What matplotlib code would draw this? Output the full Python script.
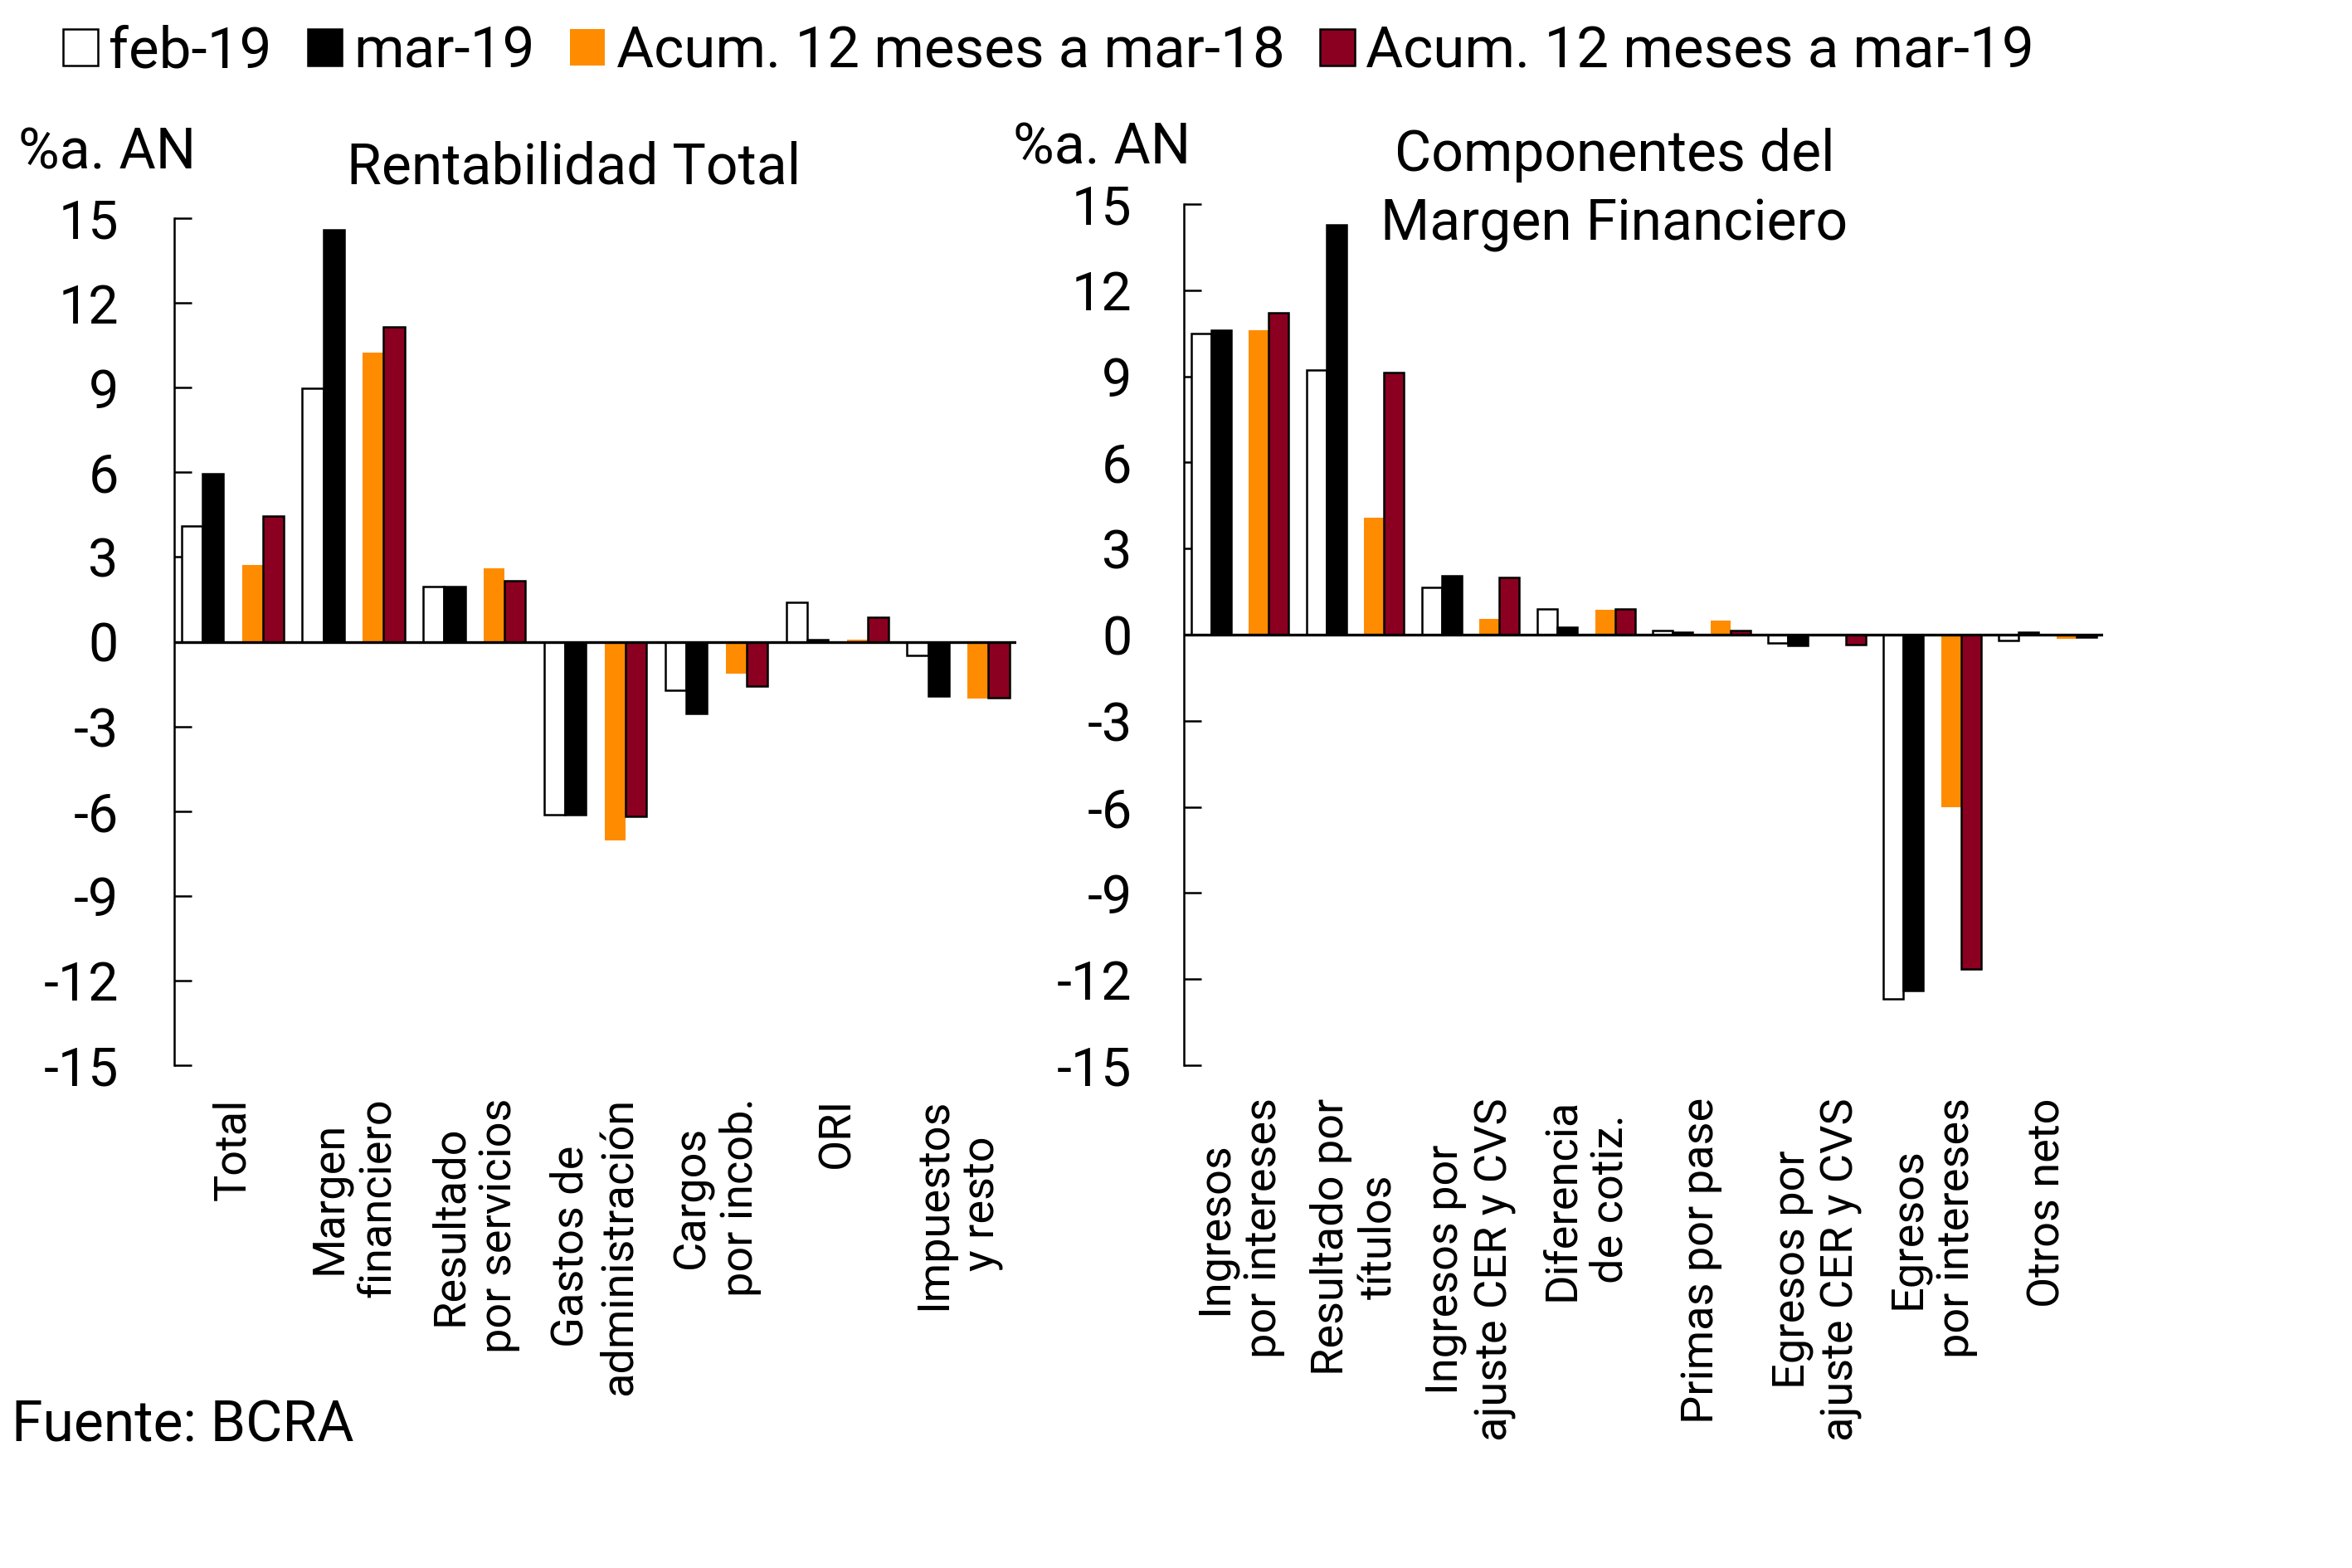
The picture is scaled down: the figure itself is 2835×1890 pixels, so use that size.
import matplotlib
matplotlib.use("Agg")
import matplotlib.pyplot as plt
from matplotlib.patches import Patch
import numpy as np

plt.rcParams['font.family'] = ['Roboto', 'DejaVu Sans']

series_names = ["feb-19", "mar-19", "Acum. 12 meses a mar-18", "Acum. 12 meses a mar-19"]

left_categories = ["Total", "Margen\nfinanciero", "Resultado\npor servicios",
                   "Gastos de\nadministración", "Cargos\npor incob.", "ORI",
                   "Impuestos\ny resto"]
left_feb19 = [4.10, 8.98, 1.96, -6.13, -1.73, 1.41, -0.49]
left_mar19 = [5.96, 14.59, 1.96, -6.13, -2.55, 0.07, -1.93]
left_acum18 = [2.72, 10.23, 2.59, -7.04, -1.12, 0.08, -2.01]
left_acum19 = [4.45, 11.16, 2.16, -6.19, -1.58, 0.87, -1.99]

right_categories = ["Ingresos\npor intereses", "Resultado por\ntítulos",
                    "Ingresos por\najuste CER y CVS", "Diferencia\nde cotiz.",
                    "Primas por pase", "Egresos por\najuste CER y CVS",
                    "Egresos\npor intereses", "Otros neto"]
right_feb19 = [10.49, 9.22, 1.65, 0.91, 0.14, -0.29, -12.69, -0.21]
right_mar19 = [10.62, 14.28, 2.05, 0.25, 0.10, -0.37, -12.40, 0.10]
right_acum18 = [10.62, 4.08, 0.55, 0.87, 0.50, 0.0, -6.01, -0.15]
right_acum19 = [11.21, 9.14, 1.99, 0.91, 0.14, -0.36, -11.64, -0.10]

yticks = [15, 12, 9, 6, 3, 0, -3, -6, -9, -12, -15]

C_ORANGE = "#FF8C00"
C_MAROON = "#8B0020"
EW = 0.6

fig = plt.figure(figsize=(9.45, 6.3), dpi=300)

W, H = 2835, 1890
def ax_rect(x0, x1, ytop, ybot):
    return [x0 / W, 1 - ybot / H, (x1 - x0) / W, (ybot - ytop) / H]

ax1 = fig.add_axes(ax_rect(209.5, 1225, 263, 1284))
ax2 = fig.add_axes(ax_rect(1427, 2535, 246, 1284))

bw = 0.345

def draw(ax, cats, feb, mar, a18, a19, ypad):
    n = len(cats)
    p_month = np.arange(n) * 2.0
    p_acum = p_month + 1.0
    ax.bar(p_month - bw / 2, feb, bw, color="white", edgecolor="black", linewidth=EW, zorder=2)
    ax.bar(p_month + bw / 2, mar, bw, color="black", edgecolor="black", linewidth=EW, zorder=2)
    ax.bar(p_acum - bw / 2, a18, bw, color=C_ORANGE, linewidth=0, zorder=2)
    ax.bar(p_acum + bw / 2, a19, bw, color=C_MAROON, edgecolor="black", linewidth=EW, zorder=2)
    ax.axhline(0, color="black", linewidth=0.8, zorder=3)
    ax.set_xlim(-0.47, 2 * n - 1 + 0.46)
    ax.set_ylim(-15, 15)
    ax.set_yticks(yticks)
    ax.set_yticklabels([str(v) for v in yticks], fontsize=15.5)
    ax.tick_params(axis="y", direction="in", length=5, width=0.6, pad=ypad)
    ax.set_xticks(p_month + 0.5)
    ax.set_xticklabels(cats, rotation=90, fontsize=13, ha="center", va="top",
                       multialignment="center")
    ax.tick_params(axis="x", length=0, pad=9.4)
    for s in ["top", "right", "bottom"]:
        ax.spines[s].set_visible(False)
    ax.spines["left"].set_linewidth(0.6)

draw(ax1, left_categories, left_feb19, left_mar19, left_acum18, left_acum19, 16)
draw(ax2, right_categories, right_feb19, right_mar19, right_acum18, right_acum19, 15)

# titles and units
fig.text(692 / W, 1 - 203 / H, "Rentabilidad Total", fontsize=16.3, ha="center", va="center")
fig.text(1946 / W, 1 - 229 / H, "Componentes del\nMargen Financiero", fontsize=16.3,
         ha="center", va="center", linespacing=1.33)
fig.text(22 / W, 1 - 184 / H, "%a. AN", fontsize=16.3, ha="left", va="center")
fig.text(1221 / W, 1 - 178 / H, "%a. AN", fontsize=16.3, ha="left", va="center")
fig.text(14 / W, 1 - 1718 / H, "Fuente: BCRA", fontsize=16.3, ha="left", va="center")

handles = [Patch(facecolor="white", edgecolor="black", linewidth=EW),
           Patch(facecolor="black", edgecolor="black", linewidth=EW),
           Patch(facecolor=C_ORANGE, linewidth=0),
           Patch(facecolor=C_MAROON, edgecolor="black", linewidth=EW)]
fig.legend(handles, series_names, loc="center left", bbox_to_anchor=(76 / W, 1 - 62 / H),
           ncol=4, frameon=False, fontsize=16.6, handlelength=0.6, handleheight=0.6,
           handletextpad=0.2, columnspacing=0.62, borderpad=0, borderaxespad=0)

fig.savefig("out.png", dpi=300)
